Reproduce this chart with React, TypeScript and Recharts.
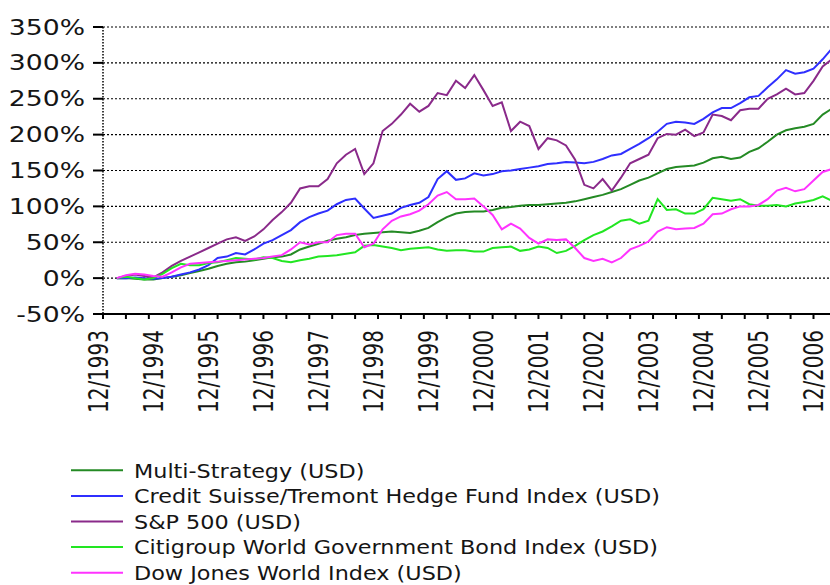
import React from 'react';
import { LineChart, Line, XAxis, YAxis, CartesianGrid, Legend } from 'recharts';

// month index: 0 = 12/1993
const months = [4, 6, 8, 10, 12, 14, 16, 18, 20, 22, 24, 26, 28, 30, 32, 34, 36, 38, 40, 42, 44, 46, 48, 50, 52, 54, 56, 58, 60, 62, 64, 66, 68, 70, 72, 74, 76, 78, 80, 82, 84, 86, 88, 90, 92, 94, 96, 98, 100, 102, 104, 106, 108, 110, 112, 114, 116, 118, 120, 122, 124, 126, 128, 130, 132, 134, 136, 138, 140, 142, 144, 146, 148, 150, 152, 154, 156, 158, 160];

const multiStrategy = [0, 0, -1, -2, -2, 0, 2, 4, 7, 10, 13, 17, 20, 22, 23, 25, 27, 29, 30, 33, 40, 44, 48, 52, 55, 57, 60, 62, 63, 64, 65, 64, 63, 66, 70, 78, 85, 90, 92, 93, 93, 95, 98, 99, 101, 102, 102, 103, 104, 105, 107, 110, 113, 116, 120, 124, 130, 136, 140, 146, 152, 155, 156, 157, 161, 167, 169, 166, 168, 176, 181, 190, 200, 206, 209, 211, 215, 228, 236];

const csTremont = [0, 0, 1, 0, -1, 0, 2, 5, 8, 12, 18, 28, 30, 35, 33, 40, 48, 53, 60, 67, 78, 85, 90, 94, 103, 109, 111, 97, 84, 87, 90, 98, 102, 105, 113, 138, 149, 137, 139, 146, 143, 145, 149, 150, 152, 154, 156, 159, 160, 162, 161, 160, 162, 166, 171, 173, 180, 187, 195, 204, 215, 218, 217, 215, 222, 231, 237, 237, 244, 252, 254, 266, 277, 290, 285, 287, 292, 305, 320];

const sp500 = [0, 3, 5, 3, 1, 8, 17, 24, 30, 36, 42, 48, 54, 57, 52, 58, 68, 81, 92, 105, 125, 128, 128, 138, 160, 172, 180, 145, 160, 205, 215, 228, 243, 232, 240, 258, 255, 275, 265, 283, 262, 240, 245, 205, 218, 212, 180, 195, 192, 185, 165, 130, 125, 138, 122, 140, 160, 166, 172, 195, 201, 200, 207, 198, 203, 228, 226, 220, 234, 236, 236, 250, 256, 264, 256, 258, 275, 295, 305];

const citiWGBI = [0, 2, 0, -2, 0, 6, 14, 20, 18, 18, 21, 22, 25, 28, 27, 26, 29, 28, 24, 22, 25, 27, 30, 31, 32, 34, 36, 45, 46, 44, 42, 39, 41, 42, 43, 40, 38, 39, 39, 37, 37, 42, 43, 44, 38, 40, 44, 42, 35, 38, 45, 53, 60, 65, 72, 80, 82, 76, 80, 110, 95, 96, 90, 90, 96, 112, 110, 108, 110, 103, 101, 101, 102, 100, 104, 106, 109, 114, 108];

const dowJonesWorld = [0, 4, 6, 5, 3, 2, 8, 15, 20, 21, 22, 23, 24, 25, 26, 27, 28, 30, 32, 40, 50, 47, 50, 50, 60, 62, 62, 43, 48, 68, 80, 86, 89, 94, 103, 115, 120, 110, 110, 111, 100, 88, 68, 76, 69, 56, 48, 54, 53, 54, 42, 28, 24, 27, 22, 28, 40, 45, 51, 65, 71, 68, 69, 70, 76, 89, 90, 96, 100, 100, 102, 110, 122, 126, 121, 124, 136, 148, 152];

const yTicks = [-50, 0, 50, 100, 150, 200, 250, 300, 350];
const minorTicks = [1, 6, 11, 16, 21, 26, 31, 36, 41, 46, 51, 56, 61, 66, 71, 76, 81, 86, 91, 96, 101, 106, 111, 116, 121, 126, 131, 136, 141, 146, 151, 156, 161];
const yearTicks = [0, 12, 24, 36, 48, 60, 72, 84, 96, 108, 120, 132, 144, 156];
const yearLabels = ['12/1993', '12/1994', '12/1995', '12/1996', '12/1997', '12/1998', '12/1999', '12/2000', '12/2001', '12/2002', '12/2003', '12/2004', '12/2005', '12/2006'];

const seriesKeys = ['ms', 'cs', 'sp', 'citi', 'dj'];
const seriesNames = [
  'Multi-Strategy (USD)',
  'Credit Suisse/Tremont Hedge Fund Index (USD)',
  'S&P 500 (USD)',
  'Citigroup World Government Bond Index (USD)',
  'Dow Jones World Index (USD)',
];
const seriesColors = ['#248a24', '#2f2fff', '#8a2a8a', '#22e622', '#ff33ff'];

const data = months.map((t, i) => ({
  t,
  ms: multiStrategy[i],
  cs: csTremont[i],
  sp: sp500[i],
  citi: citiWGBI[i],
  dj: dowJonesWorld[i],
}));

const allXTicks = Array.from(new Set([...minorTicks, ...yearTicks])).sort((a, b) => a - b);

const FONT = 'DejaVu Sans';

const YTick = (props: any) => {
  const { x, y, payload } = props;
  return (
    <g transform={`translate(${x},${y}) scale(1.3,1)`}>
      <text x={0} y={0} dy={7.5} textAnchor="end" fontFamily={FONT} fontSize={20.5} fill="#151515">
        {payload.value}%
      </text>
    </g>
  );
};

const XTick = (props: any) => {
  const { x, y, payload } = props;
  const v = payload.value;
  const idx = yearTicks.indexOf(v);
  const isMinor = minorTicks.indexOf(v) >= 0;
  return (
    <g>
      {isMinor ? <line x1={x} x2={x} y1={y} y2={y + 5} stroke="#000" strokeWidth={2} /> : null}
      {idx >= 0 ? (
        <g transform={`translate(${x},${y + 16}) scale(1.3,1) rotate(-90)`}>
          <text x={0} y={7.3} textAnchor="end" fontFamily={FONT} fontSize={20} fill="#151515">
            {yearLabels[idx]}
          </text>
        </g>
      ) : null}
    </g>
  );
};

const LegendContent = () => (
  <svg width={700} height={130} style={{ overflow: 'visible' }}>
    {seriesNames.map((n, i) => {
      const cy = 15.3 + 25.6 * i;
      return (
        <g key={n}>
          <line x1={71} x2={123} y1={cy} y2={cy} stroke={seriesColors[i]} strokeWidth={2} />
          <g transform={`translate(134,${cy}) scale(1.1,1)`}>
            <text x={0} y={0} dy={7.2} fontFamily={FONT} fontSize={20.3} fill="#151515">
              {n}
            </text>
          </g>
        </g>
      );
    })}
  </svg>
);

export default function App() {
  return (
    <div style={{ position: 'fixed', left: 0, top: 0, width: 830, height: 585, overflow: 'hidden', background: '#fff' }}>
      <LineChart width={850} height={585} data={data} margin={{ top: 27, right: 9, bottom: 0, left: 0 }}>
        <CartesianGrid vertical={false} stroke="#000" strokeDasharray="2 2" strokeWidth={1.2} />
        <XAxis
          dataKey="t"
          type="number"
          domain={[1, 162]}
          allowDataOverflow
          ticks={allXTicks}
          interval={0}
          tick={<XTick />}
          tickLine={false}
          tickSize={0}
          tickMargin={0}
          height={271}
          axisLine={{ stroke: '#000', strokeWidth: 2 }}
        />
        <YAxis
          type="number"
          domain={[-50, 350]}
          ticks={yTicks}
          interval={0}
          width={103}
          tickSize={10}
          tickMargin={8}
          tick={<YTick />}
          axisLine={{ stroke: '#000', strokeDasharray: '1.5 1.5', strokeWidth: 1.5 }}
          tickLine={{ stroke: '#000', strokeWidth: 2 }}
        />
        <Legend
          layout="horizontal"
          verticalAlign="middle"
          align="center"
          content={<LegendContent />}
          wrapperStyle={{ left: 0, top: 455, width: 700, height: 130 }}
        />
        {seriesKeys.map((k, i) => (
          <Line
            key={k}
            dataKey={k}
            name={seriesNames[i]}
            stroke={seriesColors[i]}
            strokeWidth={2}
            dot={false}
            activeDot={false}
            isAnimationActive={false}
            type="linear"
          />
        ))}
      </LineChart>
    </div>
  );
}
